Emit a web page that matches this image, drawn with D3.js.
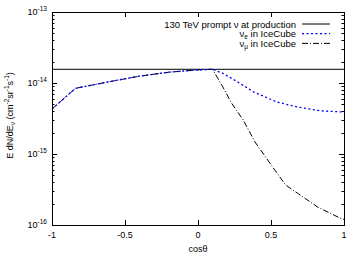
<!DOCTYPE html>
<html>
<head>
<meta charset="utf-8">
<script src="https://cdn.jsdelivr.net/npm/d3@7"></script>
<style>
  body { margin: 0; background: #fff; }
  svg text { font-family: "Liberation Sans", Arial, sans-serif; fill: #000; }
</style>
</head>
<body>
<div id="chart"></div>
<script>
// Chart size and plot margins
const width = 354;
const height = 261;
const margin = { top: 12, right: 10, bottom: 36, left: 52 };

// Flux at production (flat line)
const productionFlux = 1.56e-14;

// nu_e in IceCube
const nueCos = [-1, -0.84, -0.6, -0.4, -0.2, 0, 0.1, 0.17, 0.27, 0.38, 0.54, 0.68, 0.84, 1];
const nueFlux = [4.3e-15, 8.4e-15, 1.05e-14, 1.25e-14, 1.42e-14, 1.53e-14, 1.56e-14, 1.37e-14, 1.04e-14, 7.5e-15, 5.4e-15, 4.6e-15, 4.05e-15, 3.9e-15];

// nu_mu in IceCube
const numuCos = [-1, -0.84, -0.6, -0.4, -0.2, 0, 0.1, 0.17, 0.23, 0.31, 0.39, 0.51, 0.6, 0.68, 0.82, 0.97, 1];
const numuFlux = [4.3e-15, 8.4e-15, 1.05e-14, 1.25e-14, 1.42e-14, 1.53e-14, 1.56e-14, 8.8e-15, 5.2e-15, 3.0e-15, 1.48e-15, 6.6e-16, 3.66e-16, 2.82e-16, 1.79e-16, 1.26e-16, 1.2e-16];

// Axis ticks
const xTicks = [-1, -0.5, 0, 0.5, 1];
const xTickLabels = ['-1', '-0.5', '0', '0.5', '1'];
const yExponents = [-16, -15, -14, -13];

const svg = d3.select('#chart').append('svg')
  .attr('width', width)
  .attr('height', height);

const x = d3.scaleLinear()
  .domain([-1, 1])
  .range([margin.left, width - margin.right]);

const y = d3.scaleLog()
  .domain([1e-16, 1e-13])
  .range([height - margin.bottom, margin.top]);

const x0 = x.range()[0], x1 = x.range()[1];
const y0 = y.range()[0], y1 = y.range()[1];

// Ticks (inside, on all four sides)
const ticks = svg.append('g').attr('stroke', '#000').attr('stroke-width', 1);
xTicks.forEach(v => {
  const px = Math.round(x(v)) + 0.5;
  ticks.append('line').attr('x1', px).attr('x2', px).attr('y1', y0).attr('y2', y0 - 5);
  ticks.append('line').attr('x1', px).attr('x2', px).attr('y1', y1).attr('y2', y1 + 5);
});
yExponents.forEach(e => {
  const py = Math.round(y(Math.pow(10, e))) + 0.5;
  ticks.append('line').attr('x1', x0).attr('x2', x0 + 5).attr('y1', py).attr('y2', py);
  ticks.append('line').attr('x1', x1).attr('x2', x1 - 5).attr('y1', py).attr('y2', py);
  if (e < -13) {
    for (let m = 2; m <= 9; m++) {
      const pm = Math.round(y(m * Math.pow(10, e))) + 0.5;
      ticks.append('line').attr('x1', x0).attr('x2', x0 + 2.5).attr('y1', pm).attr('y2', pm);
      ticks.append('line').attr('x1', x1).attr('x2', x1 - 2.5).attr('y1', pm).attr('y2', pm);
    }
  }
});

// X tick labels
xTicks.forEach((v, i) => {
  svg.append('text')
    .attr('x', x(v))
    .attr('y', y0 + 13)
    .attr('text-anchor', 'middle')
    .style('font-size', '9px')
    .text(xTickLabels[i]);
});

// Y tick labels
yExponents.forEach(e => {
  const t = svg.append('text')
    .attr('x', x0 - 5)
    .attr('y', y(Math.pow(10, e)) + 3)
    .attr('text-anchor', 'end')
    .style('font-size', '9px');
  t.append('tspan').text('10');
  t.append('tspan').attr('dy', -4).style('font-size', '6.5px').text(e);
});

// Axis titles
svg.append('text')
  .attr('x', (x0 + x1) / 2)
  .attr('y', height - 9)
  .attr('text-anchor', 'middle')
  .style('font-size', '9px')
  .text('cosθ');

const yl = svg.append('text')
  .attr('transform', `translate(13, ${(y0 + y1) / 2 - 3}) rotate(-90)`)
  .attr('text-anchor', 'middle')
  .style('font-size', '9px');
yl.append('tspan').text('E dN/dE');
yl.append('tspan').attr('dy', 2).style('font-size', '6.5px').text('ν');
yl.append('tspan').attr('dy', -2).text(' (cm');
yl.append('tspan').attr('dy', -4).style('font-size', '6.5px').text('-2');
yl.append('tspan').attr('dy', 4).text('sr');
yl.append('tspan').attr('dy', -4).style('font-size', '6.5px').text('-1');
yl.append('tspan').attr('dy', 4).text('s');
yl.append('tspan').attr('dy', -4).style('font-size', '6.5px').text('-1');
yl.append('tspan').attr('dy', 4).text(')');

// Curves
const line = d3.line()
  .x(d => x(d[0]))
  .y(d => y(d[1]));

svg.append('path')
  .datum([[-1, productionFlux], [1, productionFlux]])
  .attr('d', line)
  .attr('fill', 'none')
  .attr('stroke', '#000')
  .attr('stroke-width', 1);

svg.append('path')
  .datum(d3.zip(numuCos, numuFlux))
  .attr('d', line)
  .attr('fill', 'none')
  .attr('stroke', '#000')
  .attr('stroke-width', 1)
  .attr('stroke-dasharray', '6,2,1,2');

svg.append('path')
  .datum(d3.zip(nueCos, nueFlux))
  .attr('d', line)
  .attr('fill', 'none')
  .attr('stroke', '#0000ff')
  .attr('stroke-width', 1.3)
  .attr('stroke-dasharray', '2,2.5');

// Frame
svg.append('rect')
  .attr('x', x0 + 0.5)
  .attr('y', y1 + 0.5)
  .attr('width', x1 - x0)
  .attr('height', y0 - y1)
  .attr('fill', 'none')
  .attr('stroke', '#000')
  .attr('stroke-width', 1);

// Legend
const legend = [
  { label: '130 TeV prompt ν at production', sub: null, color: '#000', dash: null },
  { label: 'ν', sub: 'e', rest: ' in IceCube', color: '#0000ff', dash: '2,2.5' },
  { label: 'ν', sub: 'μ', rest: ' in IceCube', color: '#000', dash: '6,2,1,2' }
];
legend.forEach((d, i) => {
  const ly = 24 + i * 9.7;
  const t = svg.append('text')
    .attr('x', 296)
    .attr('y', ly + 3.5)
    .attr('text-anchor', 'end')
    .style('font-size', '9.5px');
  t.append('tspan').text(d.label);
  if (d.sub) {
    t.append('tspan').attr('dy', 2).style('font-size', '6.5px').text(d.sub);
    t.append('tspan').attr('dy', -2).text(d.rest);
  }
  svg.append('line')
    .attr('x1', 302).attr('x2', 330)
    .attr('y1', ly).attr('y2', ly)
    .attr('stroke', d.color)
    .attr('stroke-width', d.color === '#0000ff' ? 1.3 : 1)
    .attr('stroke-dasharray', d.dash);
});
</script>
</body>
</html>
